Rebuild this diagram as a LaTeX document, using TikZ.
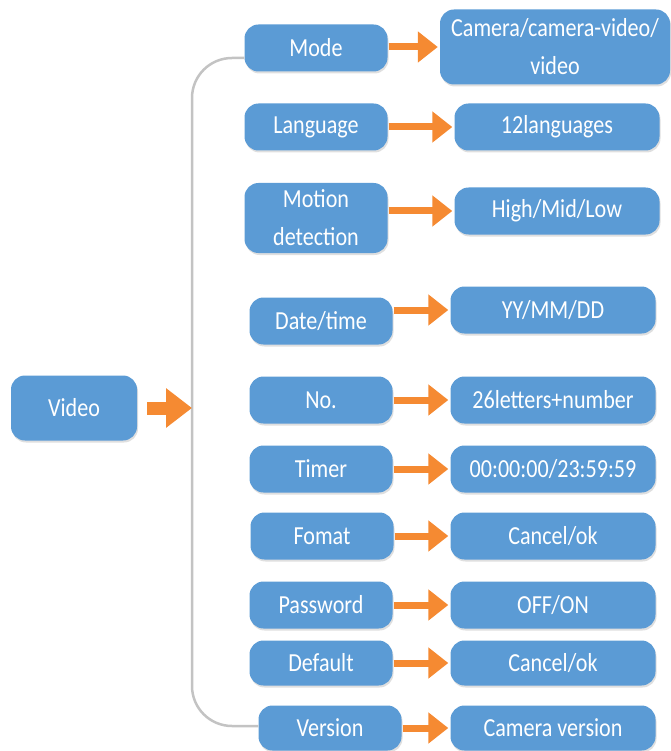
\documentclass[tikz,border=0pt]{standalone}
\usepackage{fontspec}
\setmainfont{Carlito}[FakeStretch=0.85]
\usetikzlibrary{arrows.meta,shadows}

\definecolor{boxblue}{HTML}{5B9BD5}
\definecolor{arroworange}{HTML}{F58A32}
\definecolor{bracegray}{HTML}{C3C3C3}

\begin{document}
\begin{tikzpicture}[
    x=1pt, y=-1pt,
    font=\fontsize{26}{38}\selectfont,
    item/.style={fill=boxblue, text=white, rounded corners=14pt, align=center,
        inner sep=1pt, drop shadow={opacity=0.25, shadow xshift=1pt, shadow yshift=-2pt}},
    key/.style={item, minimum width=143pt, minimum height=47pt},
    val/.style={item, minimum width=205pt, minimum height=47pt},
    go/.style={arroworange, line width=7pt, -{Triangle[width=30pt,length=20pt]}}
]
    \useasboundingbox (0,0) rectangle (670,751);

    % Root
    \node[item, minimum width=126pt, minimum height=65pt] (video) at (74,408) {Video};
    \coordinate (brace) at (192,408);

    % Settings
    \node[key] (mode) at (316,48) {Mode};
    \node[key] (lang) at (316,127) {Language};
    \node[key, minimum height=70pt] (motion) at (316,218) {Motion\\detection};
    \node[key] (date) at (321,321) {Date/time};
    \node[key] (no) at (321,400) {No.};
    \node[key] (timer) at (321,469) {Timer};
    \node[key] (format) at (322,536) {Fomat};
    \node[key] (pass) at (321,605) {Password};
    \node[key, minimum height=45pt] (default) at (321,663) {Default};
    \node[key, minimum height=45pt] (version) at (330,728) {Version};

    % Values
    \node[val, minimum width=230pt, minimum height=75pt] (modev) at (555,47) {Camera/camera-video/\\video};
    \node[val] (langv) at (557,127) {12languages};
    \node[val] (motionv) at (557,211) {High/Mid/Low};
    \node[val] (datev) at (553,310) {YY/MM/DD};
    \node[val] (nov) at (553,400) {26letters+number};
    \node[val] (timerv) at (553,469) {00:00:00/23:59:59};
    \node[val] (formatv) at (553,536) {Cancel/ok};
    \node[val] (passv) at (553,605) {OFF/ON};
    \node[val, minimum height=45pt] (defaultv) at (553,663) {Cancel/ok};
    \node[val, minimum height=45pt] (versionv) at (553,728) {Camera version};

    % Bracket
    \draw[bracegray, line width=2.5pt, rounded corners=40pt]
        ([yshift=-10pt]mode.west) -| (brace) |- ([yshift=2pt]version.west);
    \draw[arroworange, line width=13pt, -{Triangle[width=38pt,length=26pt]}]
        ([xshift=10pt]video.east) -- (brace);

    % Arrows
    \foreach \a/\b in {mode/modev, lang/langv, motion/motionv, date/datev, no/nov,
        timer/timerv, format/formatv, pass/passv, default/defaultv, version/versionv}
        \draw[go] ([xshift=1pt]\a.east |- \b.west) -- ([xshift=-2pt]\b.west);

\end{tikzpicture}
\end{document}
